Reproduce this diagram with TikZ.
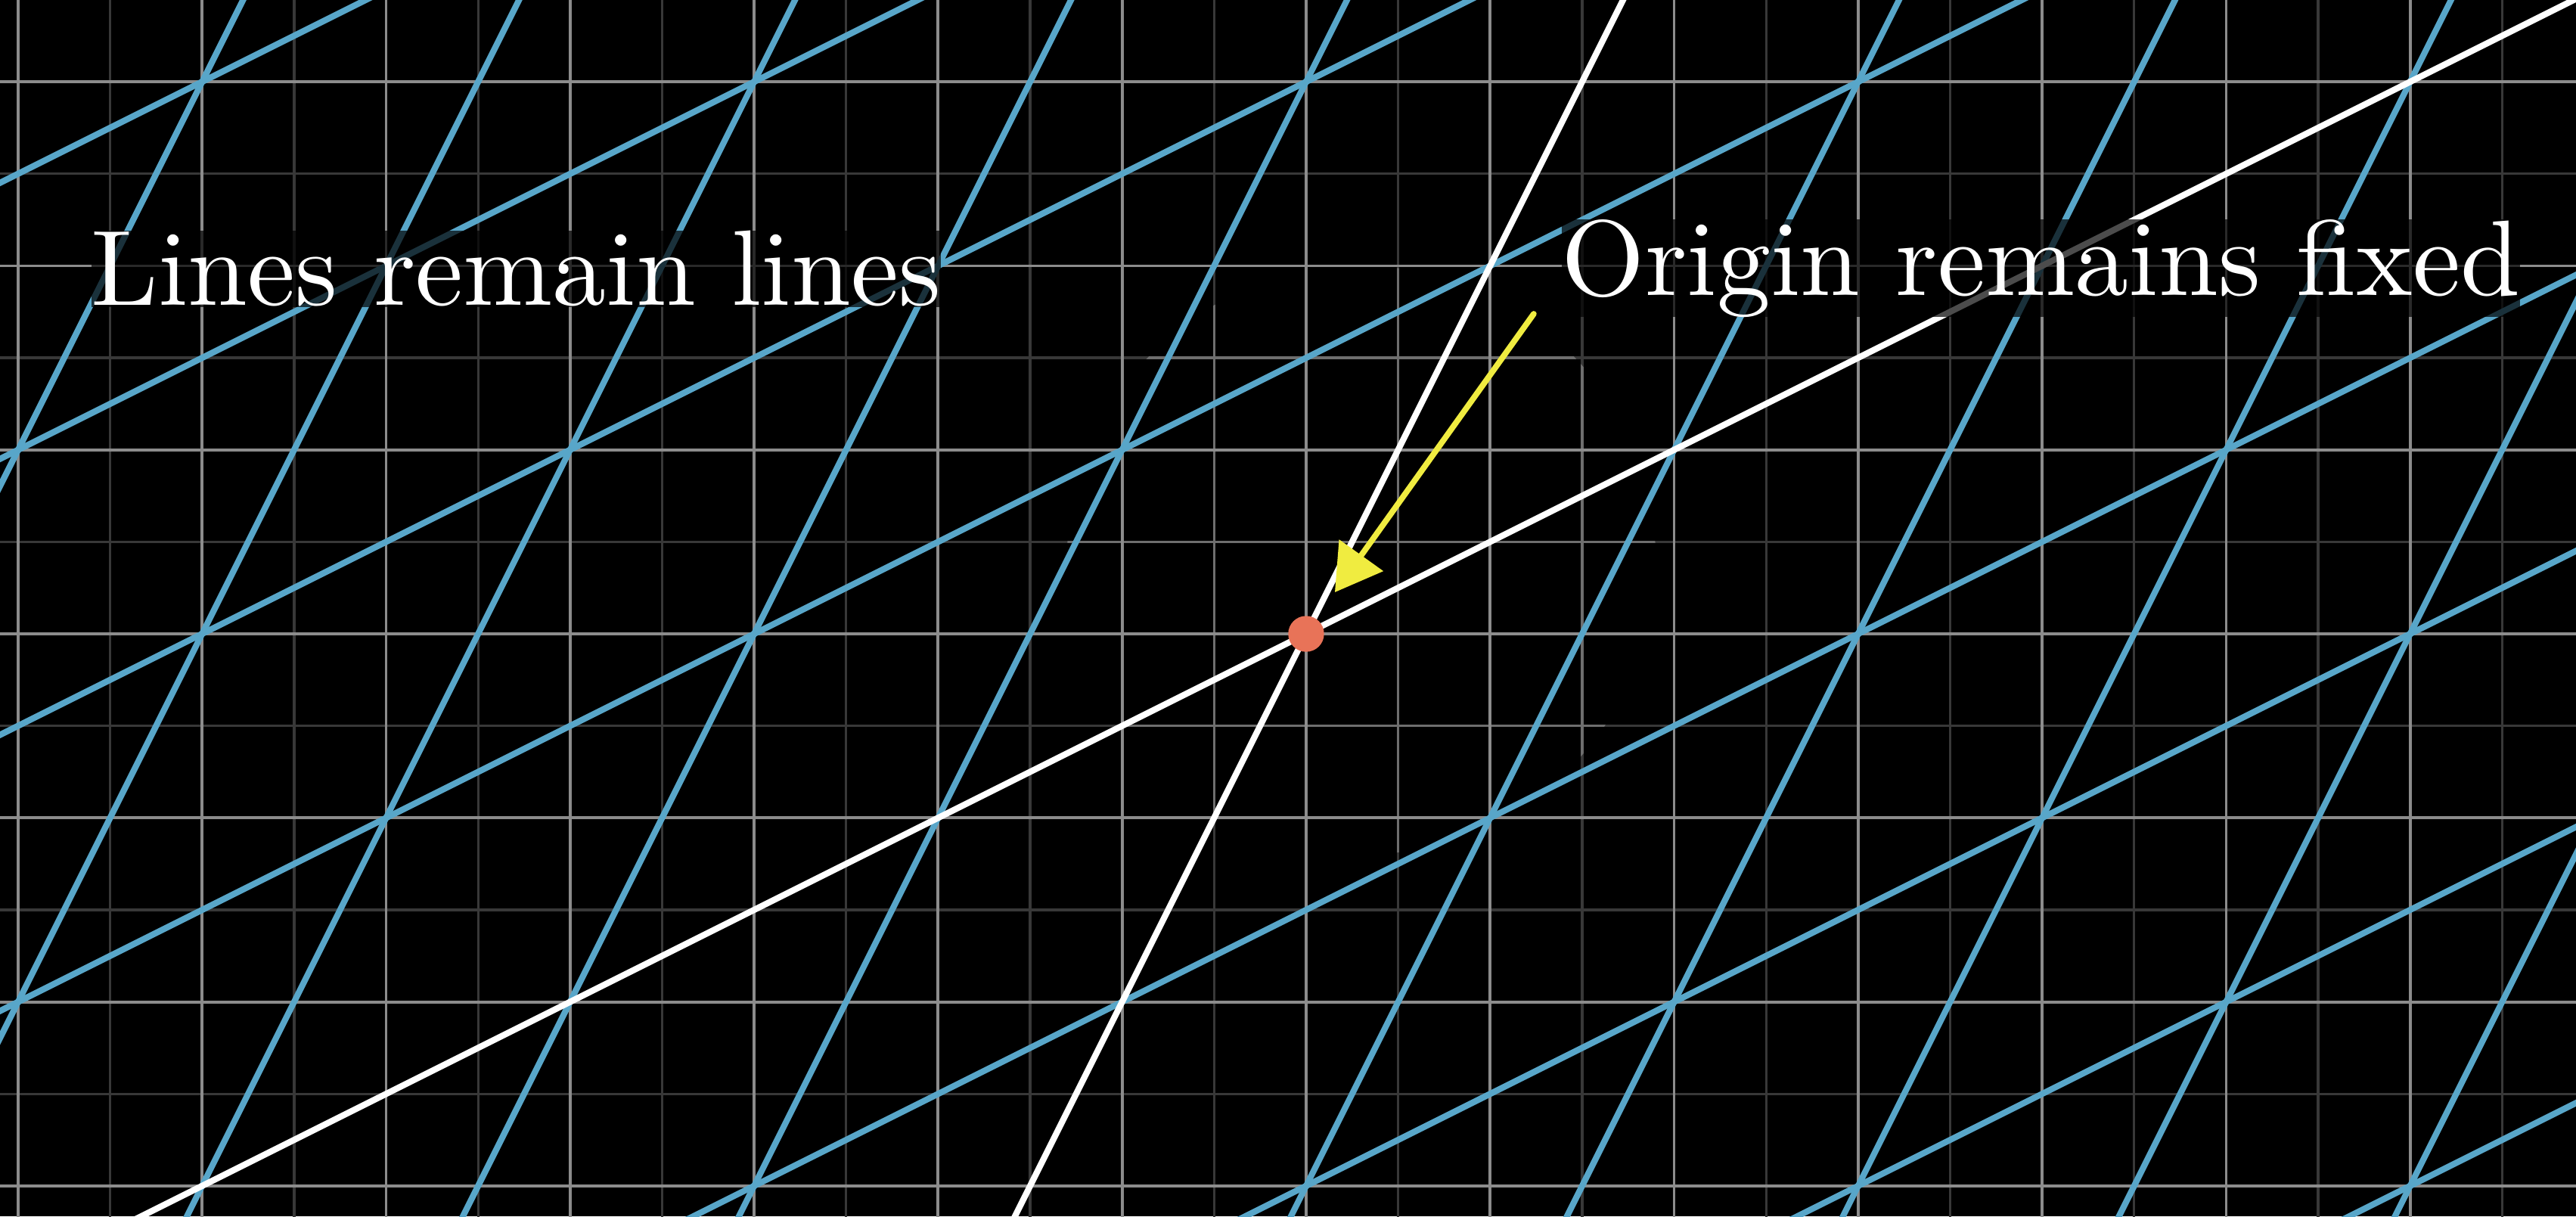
\documentclass[tikz,border=0pt]{standalone}
\usetikzlibrary{arrows.meta}
\definecolor{gridmajor}{RGB}{140,140,140}
\definecolor{gridminor}{RGB}{56,56,56}
\definecolor{gridminorlit}{RGB}{110,110,110}
\definecolor{tblue}{RGB}{88,166,201}
\definecolor{tyellow}{RGB}{240,236,64}
\definecolor{tred}{RGB}{232,115,88}
\begin{document}
\begin{tikzpicture}[x=1cm,y=1cm,
  majorline/.style={draw=gridmajor, line width=0.45pt},
  minorline/.style={draw=gridminor, line width=0.38pt},
  minorlit/.style={draw=gridminorlit, line width=0.38pt},
  blueline/.style={draw=tblue, line width=0.95pt},
  axisline/.style={draw=white, line width=0.95pt},
  arrowline/.style={draw=tyellow, line width=0.9pt, line cap=round,
    -{Triangle[length=0.247cm, width=0.288cm]}},
  textbox/.style={scale=1.66, inner sep=0pt, fill=black, fill opacity=0.7,
    text opacity=1, text=white, font=\normalsize, anchor=base west},
  origindot/.style={circle, fill=tred, inner sep=0pt, minimum size=0.195cm}
]
\fill[black] (-7.0986,-3.1650) rectangle (6.9014,3.4445);
\useasboundingbox (-7.0986,-3.1650) rectangle (6.9014,3.4445);
\clip (-7.0986,-3.1650) rectangle (6.9014,3.4445);
% background grid
\foreach \x in {-6.5,-5.5,...,6.5} \draw[minorline] (\x,-3.3) -- (\x,3.6);
\foreach \y in {-2.5,-1.5,...,2.5} \draw[minorline] (-7.2,\y) -- (7.0,\y);
\begin{scope}
  \clip (0.3,0.4) circle (1.6);
  \foreach \x in {-1.5,-0.5,...,2.5} \draw[minorlit] (\x,-3.3) -- (\x,3.6);
  \foreach \y in {-1.5,-0.5,...,2.5} \draw[minorlit] (-7.2,\y) -- (7.0,\y);
\end{scope}
\foreach \x in {-7,...,6} \draw[majorline] (\x,-3.3) -- (\x,3.6);
\foreach \y in {-3,...,3} \draw[majorline] (-7.2,\y) -- (7.0,\y);
% transformed grid
\foreach \k in {-4,-3,-2,-1,1,2,3,4}
  \draw[blueline] ({\k-20},{2*\k-10}) -- ({\k+20},{2*\k+10});
\foreach \k in {-5,-4,-3,-2,-1,1,2,3,4,5}
  \draw[blueline] ({2*\k-10},{\k-20}) -- ({2*\k+10},{\k+20});
% transformed axes
\draw[axisline] (-20,-10) -- (20,10);
\draw[axisline] (-10,-20) -- (10,20);
% labels
\node[textbox] (lineslabel) at (-6.614,1.784) {Lines remain lines};
\node[textbox] (originlabel) at (1.377,1.841) {Origin remains fixed};
% arrow and origin
\coordinate (arrowstart) at (1.237,1.739);
\coordinate (arrowtip) at (0.156,0.226);
\draw[arrowline] (arrowstart) -- (arrowtip);
\node[origindot] (origin) at (0,0) {};
\end{tikzpicture}
\end{document}
